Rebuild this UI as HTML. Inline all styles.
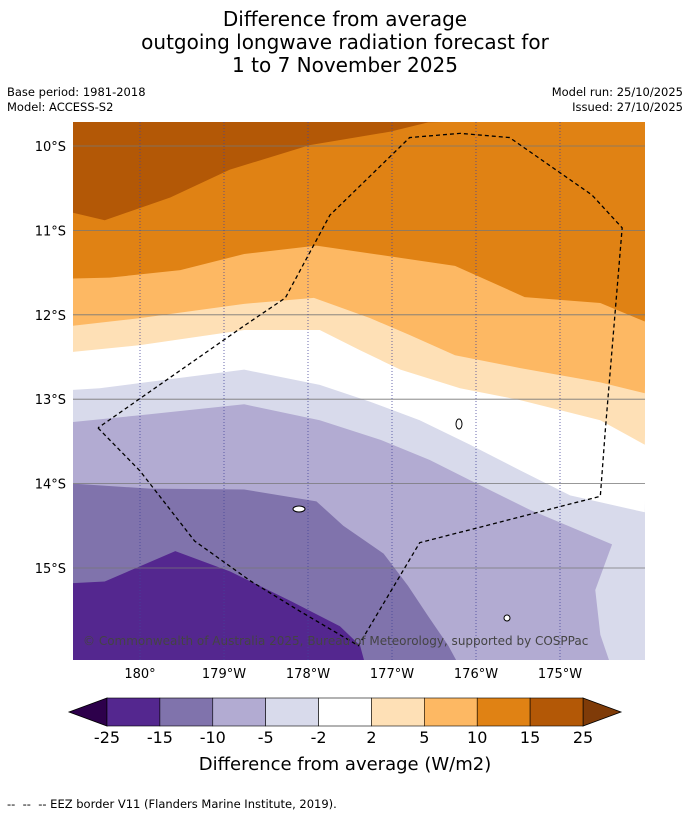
<!DOCTYPE html>
<html><head><meta charset="utf-8"><style>
body{margin:0;background:#fff;font-family:"DejaVu Sans","Liberation Sans",sans-serif;}
#wrap{position:relative;width:690px;height:816px;overflow:hidden;}
.t{position:absolute;white-space:nowrap;color:#000;}
svg text{font-family:"DejaVu Sans","Liberation Sans",sans-serif;}
</style></head><body>
<div id="wrap">
<div class="t" style="left:0;width:690px;text-align:center;top:8px;font-size:20px;line-height:23px;">Difference from average<br>outgoing longwave radiation forecast for<br>1 to 7 November 2025</div>
<div class="t" style="left:7px;top:85px;font-size:11.5px;line-height:15px;">Base period: 1981-2018<br>Model: ACCESS-S2</div>
<div class="t" style="right:7px;top:85px;font-size:11.5px;line-height:15px;text-align:right;">Model run: 25/10/2025<br>Issued: 27/10/2025</div>
<svg id="map" width="690" height="816" style="position:absolute;left:0;top:0"></svg>
<div class="t" style="left:7px;top:797px;font-size:11.5px;">-- &nbsp;-- &nbsp;-- EEZ border V11 (Flanders Marine Institute, 2019).</div>
</div>
<script>
const latTicks=[10,11,12,13,14,15];
const lonTicks=[180,181,182,183,184,185];
const lonLabels=["180°","179°W","178°W","177°W","176°W","175°W"];
const levels=[-25,-15,-10,-5,-2,2,5,10,15,25];
const colors=["#54278f","#8073ac","#b2abd2","#d8daeb","#ffffff","#fee0b6","#fdb863","#e08214","#b35806"];
// contour boundaries, [lon(east, 180..), lat(south)]
const b1=[[179.2,15.18],[179.58,15.16],[180.42,14.8],[181.07,15.04],[181.79,15.39],[182.38,15.69],[182.62,15.92],[182.68,16.14]];
const b2=[[179.2,14.0],[180.12,14.06],[181.24,14.07],[182.1,14.21],[182.42,14.5],[182.9,14.83],[183.19,15.21],[183.43,15.57],[183.67,15.92],[183.79,16.14]];
const b3=[[179.2,13.27],[180,13.19],[181.24,13.06],[182.14,13.25],[182.86,13.48],[183.45,13.72],[183.93,13.96],[184.64,14.31],[185.62,14.72],[185.42,15.26],[185.48,15.79],[185.6,16.14],[186.01,16.14]];
const b4=[[179.2,12.89],[179.52,12.87],[181.24,12.65],[182.14,12.83],[182.74,13.03],[183.33,13.25],[183.93,13.54],[184.52,13.84],[185.12,14.14],[186.01,14.34]];
const b5=[[179.2,12.44],[180,12.36],[181.24,12.18],[182.14,12.18],[182.62,12.42],[183.1,12.65],[183.81,12.87],[184.52,13.01],[185.48,13.25],[186.01,13.54]];
const b6=[[179.2,12.13],[180,12.04],[181.24,11.87],[182.07,11.8],[182.74,12.04],[183.21,12.24],[183.75,12.48],[184.52,12.63],[185.48,12.8],[186.01,12.93]];
const b7=[[179.2,11.57],[179.64,11.56],[180.48,11.47],[181.24,11.28],[182.1,11.18],[183.75,11.42],[184.58,11.79],[185.48,11.86],[186.01,12.08]];
const b8=[[179.2,10.79],[179.58,10.88],[180.36,10.61],[181.07,10.28],[182.02,9.99],[182.98,9.83],[183.43,9.72]];
const eez=[[179.5,13.34],[180,13.85],[180.65,14.68],[181.31,15.15],[181.9,15.51],[182.6,15.92],[183.33,14.7],[185.48,14.15],[185.54,13.36],[185.74,10.97],[185.38,10.58],[184.4,9.9],[183.81,9.85],[183.21,9.9],[182.26,10.82],[181.73,11.8],[181.24,12.13],[179.5,13.34]];
const X0=73,X1=645,Y0=122,Y1=660;
const xs=l=>140+(l-180)*84, ys=l=>146+(l-10)*84.4;
const svg=document.getElementById('map');
const NS="http://www.w3.org/2000/svg";
function mk(t,a){const e=document.createElementNS(NS,t);for(const k in a)e.setAttribute(k,a[k]);svg.appendChild(e);return e;}
const cp=mk('clipPath',{id:'cp'});
const cr=document.createElementNS(NS,'rect');
cr.setAttribute('x',X0);cr.setAttribute('y',Y0);cr.setAttribute('width',X1-X0);cr.setAttribute('height',Y1-Y0);cp.appendChild(cr);
const g=mk('g',{'clip-path':'url(#cp)'});
function add(t,a,parent){const e=document.createElementNS(NS,t);for(const k in a)e.setAttribute(k,a[k]);(parent||g).appendChild(e);return e;}
const base=add('rect',{x:X0,y:Y0,width:X1-X0,height:Y1-Y0,fill:colors[0]});


const bounds=[b1,b2,b3,b4,b5,b6,b7,b8];
bounds.forEach((b,i)=>{
 let pts=b.map(p=>xs(p[0])+','+ys(p[1]));
 const last=b[b.length-1];
 if(ys(last[1])>=Y1-2) pts.push(X1+5+','+(Y1+5));
 pts.push(X1+5+','+(Y0-5),(X0-5)+','+(Y0-5),(X0-5)+','+ys(b[0][1]));
 const p=add('polygon',{points:pts.join(' '),fill:colors[i+1]});
 
 
});
latTicks.forEach(l=>{const ln=add('line',{x1:X0,x2:X1,y1:ys(l),y2:ys(l),stroke:'#777','stroke-width':0.8});
 });
lonTicks.forEach(l=>{const ln=add('line',{x1:xs(l),x2:xs(l),y1:Y0,y2:Y1,stroke:'#44449a','stroke-width':0.8,'stroke-dasharray':'1,2'});
 });
const ez=add('polyline',{points:eez.map(p=>xs(p[0])+','+ys(p[1])).join(' '),fill:'none',stroke:'#000','stroke-width':1.3,'stroke-dasharray':'4,3'});

[[459,424,3,5],[299,509,6,3],[507,618,3,3]].forEach(c=>{const e=add('ellipse',{cx:c[0],cy:c[1],rx:c[2],ry:c[3],fill:'#fff',stroke:'#000','stroke-width':1});
 });
const cpt=add('text',{x:83,y:645,'font-size':12,fill:'#444'});
cpt.textContent='© Commonwealth of Australia 2025, Bureau of Meteorology, supported by COSPPac';

latTicks.forEach(l=>{const t=mk('text',{x:66,y:ys(l)+5,'text-anchor':'end','font-size':13});t.textContent=l+'°S';
 });
lonTicks.forEach((l,i)=>{const t=mk('text',{x:xs(l),y:678,'text-anchor':'middle','font-size':13});t.textContent=lonLabels[i];
 });
// colorbar
const cbX=107,cbW=476,cbY=698,cbH=28,seg=cbW/colors.length;
const lt=mk('polygon',{points:`${cbX},${cbY} 69,${cbY+cbH/2} ${cbX},${cbY+cbH}`,fill:'#2d004b',stroke:'#000','stroke-width':0.8});

const rt=mk('polygon',{points:`${cbX+cbW},${cbY} 621,${cbY+cbH/2} ${cbX+cbW},${cbY+cbH}`,fill:'#7f3b08',stroke:'#000','stroke-width':0.8});

colors.forEach((c,i)=>{const r=mk('rect',{x:cbX+i*seg,y:cbY,width:seg,height:cbH,fill:c,stroke:'#000','stroke-width':0.6});
 });
levels.forEach((v,i)=>{const t=mk('text',{x:cbX+i*seg,y:743,'text-anchor':'middle','font-size':16});t.textContent=v;
 });
const ct=mk('text',{x:345,y:770,'text-anchor':'middle','font-size':18});ct.textContent='Difference from average (W/m2)';

</script>
</body></html>
